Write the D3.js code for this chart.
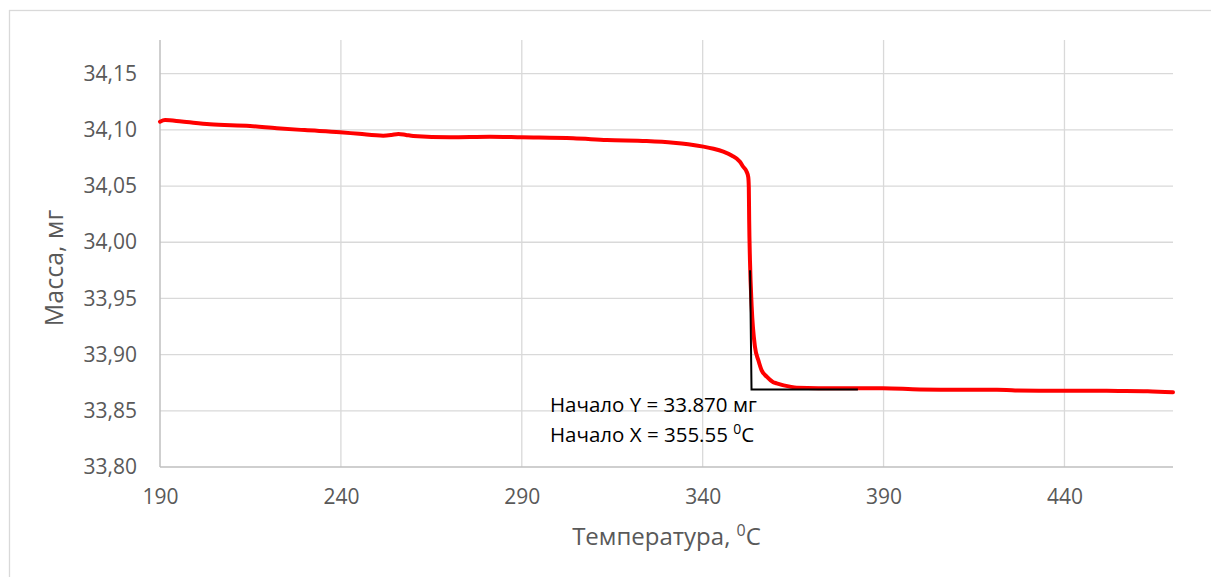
<!DOCTYPE html>
<html>
<head>
<meta charset="utf-8">
<script src="https://cdn.jsdelivr.net/npm/d3@7"></script>
<style>
  body { margin: 0; background: #fff; }
  text { font-family: "Open Sans", sans-serif; }
</style>
</head>
<body>
<div id="chart"></div>
<script>
const temperature = [190, 191.4, 196, 203.8, 214.9, 222.3, 230, 239.8, 245, 251.7, 254, 255.9, 258, 260,
  270.2, 281.2, 290, 304.2, 313.5, 324.5, 331.9, 336, 340.2, 343, 345.7, 348, 350.3, 351.2, 352.15,
  352.6, 352.75, 352.85, 353.07, 353.54, 354.45, 355.37, 356.3, 357.7, 359.5, 360.45, 364.1, 366,
  377.9, 389.8, 400, 410, 420, 424, 427, 433, 445, 455, 463, 470];
const mass = [34.1073, 34.1088, 34.1075, 34.1050, 34.1035, 34.1015, 34.0998, 34.0979, 34.0965, 34.0949,
  34.0955, 34.0964, 34.0955, 34.0946, 34.0934, 34.0939, 34.0934, 34.0926, 34.0910, 34.0901, 34.0886,
  34.0872, 34.0851, 34.0832, 34.0806, 34.0772, 34.0717, 34.0672, 34.0628, 34.0580, 34.0490, 34.0200,
  33.9840, 33.9430, 33.9070, 33.8952, 33.8860, 33.8804, 33.8755, 33.8745, 33.8715, 33.8706, 33.8701,
  33.8701, 33.8690, 33.8688, 33.8687, 33.8686, 33.8680, 33.8679, 33.8679, 33.8677, 33.8674, 33.8665];

// tangent construction for the onset
const onsetT = [353.1, 353.5, 382.9];
const onsetM = [33.975, 33.869, 33.869];

const xTicks = [190, 240, 290, 340, 390, 440];
const yTicks = [33.80, 33.85, 33.90, 33.95, 34.00, 34.05, 34.10, 34.15];
const onsetLabels = ["Начало Y = 33.870 мг", "Начало X = 355.55 "];

const W = 1211, H = 577;
const margin = { top: 40, right: 38, bottom: 110, left: 160 };
const width = W - margin.left - margin.right;
const height = H - margin.top - margin.bottom;

const svg = d3.select("#chart").append("svg")
  .attr("width", W)
  .attr("height", H);

svg.append("rect")
  .attr("x", 9.5).attr("y", 10.5)
  .attr("width", 1400).attr("height", 800)
  .attr("fill", "none")
  .attr("stroke", "#d9d9d9")
  .attr("stroke-width", 1.3);

const g = svg.append("g").attr("transform", `translate(${margin.left},${margin.top})`);

const x = d3.scaleLinear().domain([190, 470]).range([0, width]);
const y = d3.scaleLinear().domain([33.80, 34.18]).range([height, 0]);

// grid
g.append("g").selectAll("line")
  .data(yTicks.slice(1))
  .enter().append("line")
  .attr("x1", 0).attr("x2", width)
  .attr("y1", d => y(d)).attr("y2", d => y(d))
  .attr("stroke", "#d9d9d9").attr("stroke-width", 1.3);

g.append("g").selectAll("line")
  .data(xTicks.slice(1))
  .enter().append("line")
  .attr("x1", d => x(d)).attr("x2", d => x(d))
  .attr("y1", 0).attr("y2", height)
  .attr("stroke", "#d9d9d9").attr("stroke-width", 1.3);

// axes
const fmt = d => d.toFixed(2).replace(".", ",");

const yAxis = g.append("g")
  .call(d3.axisLeft(y).tickValues(yTicks).tickFormat(fmt).tickSize(0).tickPadding(23));
const xAxis = g.append("g")
  .attr("transform", `translate(0,${height})`)
  .call(d3.axisBottom(x).tickValues(xTicks).tickSize(0).tickPadding(22));

[xAxis, yAxis].forEach(a => {
  a.select(".domain").attr("stroke", "#bfbfbf").attr("stroke-width", 1.5);
  a.selectAll("text").attr("fill", "#595959").style("font-size", "21px");
});
yAxis.select(".domain").attr("d", `M0,0V${height}`);
xAxis.select(".domain").attr("d", `M0,0H${width}`);

const pts = d3.zip(temperature, mass);
const onsetPts = d3.zip(onsetT, onsetM);

const line = d3.line()
  .x(d => x(d[0]))
  .y(d => y(d[1]));

g.append("path")
  .datum(pts)
  .attr("fill", "none")
  .attr("stroke", "#ff0000")
  .attr("stroke-width", 4)
  .attr("stroke-linejoin", "round")
  .attr("stroke-linecap", "round")
  .attr("d", line.curve(d3.curveMonotoneX));

// tangent lines
g.append("path")
  .datum(onsetPts)
  .attr("fill", "none")
  .attr("stroke", "#000")
  .attr("stroke-width", 2)
  .attr("d", line.curve(d3.curveLinear));

// onset annotation
const ann = g.append("g").attr("fill", "#000").style("font-size", "20.5px");
onsetLabels.forEach((s, i) => {
  const t = ann.append("text")
    .attr("x", 550 - margin.left)
    .attr("y", 412 - margin.top + i * 30)
    .text(s);
  if (i === 1) {
    t.append("tspan").attr("dy", -8).style("font-size", "14px").text("0");
    t.append("tspan").attr("dy", 8).text("C");
  }
});

// axis titles
const xt = svg.append("text")
  .attr("x", margin.left + width / 2)
  .attr("y", 545)
  .attr("text-anchor", "middle")
  .attr("fill", "#595959")
  .style("font-size", "24px")
  .text("Температура, ");
xt.append("tspan").attr("dy", -9).style("font-size", "16px").text("0");
xt.append("tspan").attr("dy", 9).text("C");

svg.append("text")
  .attr("transform", `translate(63,268) rotate(-90)`)
  .attr("text-anchor", "middle")
  .attr("fill", "#595959")
  .style("font-size", "25px")
  .text("Масса, мг");
</script>
</body>
</html>
